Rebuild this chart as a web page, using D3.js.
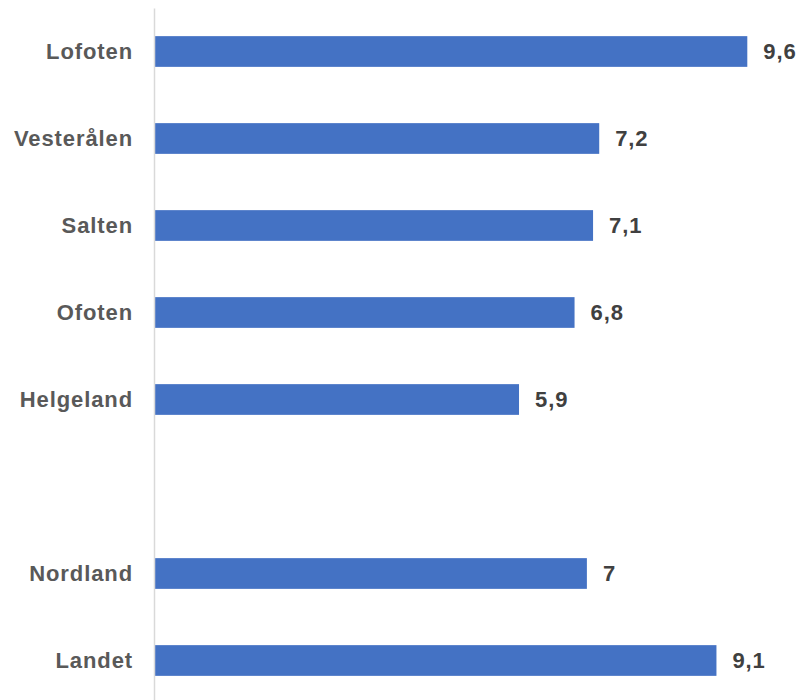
<!DOCTYPE html>
<html>
<head>
<meta charset="utf-8">
<script src="https://cdn.jsdelivr.net/npm/d3@7"></script>
<style>
  html, body { margin: 0; padding: 0; background: #fff; }
  svg { display: block; }
  text { font-family: "Liberation Sans", Arial, Helvetica, sans-serif; }
</style>
</head>
<body>
<svg id="chart" width="800" height="700"></svg>
<script>
const categories = ["Lofoten", "Vesterålen", "Salten", "Ofoten", "Helgeland", "", "Nordland", "Landet"];
const values = [9.6, 7.2, 7.1, 6.8, 5.9, null, 7, 9.1];
const valueLabels = ["9,6", "7,2", "7,1", "6,8", "5,9", "", "7", "9,1"];

const data = categories.map((c, i) => ({ key: "k" + i, cat: c, v: values[i], label: valueLabels[i] }));

const svg = d3.select("#chart");
const x = d3.scaleLinear().domain([0, 9.6]).range([155, 747.3]);
const y = d3.scaleBand()
  .domain(data.map(d => d.key))
  .range([8, 704])
  .paddingInner(0.647)
  .paddingOuter(0.3235);

svg.append("g")
  .selectAll("rect")
  .data(data.filter(d => d.v != null))
  .join("rect")
  .attr("x", x(0))
  .attr("y", d => y(d.key))
  .attr("width", d => x(d.v) - x(0))
  .attr("height", y.bandwidth())
  .attr("fill", "#4472c4");

const axis = d3.axisLeft(y)
  .tickSize(0)
  .tickPadding(21)
  .tickFormat(k => data.find(d => d.key === k).cat);

const ag = svg.append("g")
  .attr("transform", `translate(${x(0) - 1},0)`)
  .call(axis);
ag.attr("font-family", null).attr("font-size", null);
ag.select(".domain").attr("stroke", "#d9d9d9").attr("stroke-width", 1.5);
ag.selectAll("text")
  .style("font-family", "'Liberation Sans', Arial, sans-serif")
  .style("font-size", "22px")
  .style("font-weight", "bold")
  .style("letter-spacing", "0.9px")
  .attr("fill", "#595959");

svg.append("g")
  .selectAll("text")
  .data(data.filter(d => d.v != null))
  .join("text")
  .attr("x", d => x(d.v) + 16)
  .attr("y", d => y(d.key) + y.bandwidth() / 2)
  .attr("dy", "0.36em")
  .style("font-family", "'Liberation Sans', Arial, sans-serif")
  .style("font-size", "22px")
  .style("font-weight", "bold")
  .style("letter-spacing", "0.9px")
  .attr("fill", "#404040")
  .text(d => d.label);
</script>
</body>
</html>
